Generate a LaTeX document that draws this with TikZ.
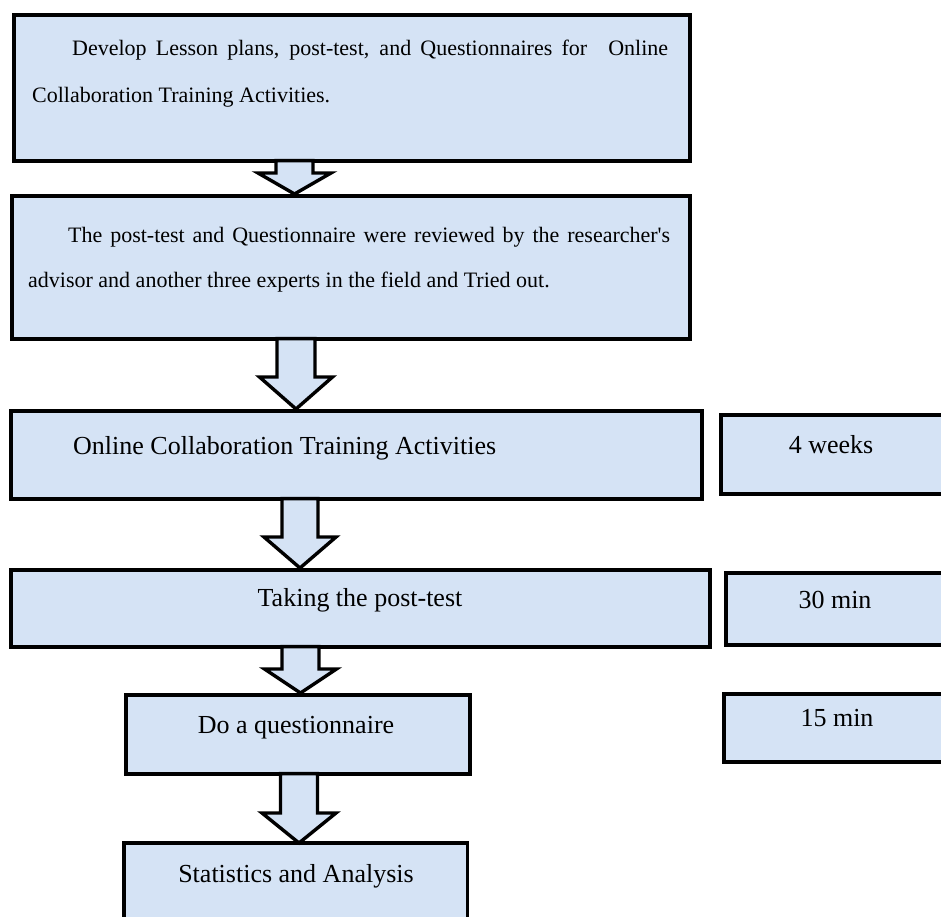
\documentclass[tikz,border=0pt]{standalone}
\usepackage{fontspec}
\setmainfont{Liberation Serif}
\usetikzlibrary{calc}
\definecolor{boxblue}{RGB}{213,227,245}
\newcommand\blockarrow[6]{% #1 from, #2 to, #3 centre x, #4 head length, #5 shaft half width, #6 head half width
  \draw[arr] let \p1=(#1.south), \p2=(#2.north) in
    (#3pt-#5pt,\y1+2pt) -- (#3pt-#5pt,\y2+#4pt) -- (#3pt-#6pt,\y2+#4pt) -- (#3pt,\y2)
    -- (#3pt+#6pt,\y2+#4pt) -- (#3pt+#5pt,\y2+#4pt) -- (#3pt+#5pt,\y1+2pt) -- cycle;}
\begin{document}
\begin{tikzpicture}[x=1pt,y=-1pt,
  box/.style={draw=black, line width=3.6pt, fill=boxblue, rectangle, inner sep=0pt, anchor=north west},
  openbox/.style={fill=boxblue, rectangle, inner sep=0pt, anchor=north west},
  arr/.style={draw=black, line width=3.4pt, fill=boxblue, line join=miter},
  small/.style={inner sep=0pt, font=\fontsize{22}{26}\selectfont},
  big/.style={inner sep=0pt, font=\fontsize{26}{30}\selectfont}]
\useasboundingbox (0,0) rectangle (941,916);
% boxes
\node[box, minimum width=676pt, minimum height=146pt] (b1) at (12,13) {};
\node[box, minimum width=678pt, minimum height=143pt] (b2) at (10,194) {};
\node[box, minimum width=691pt, minimum height=88pt] (b3) at (9,409) {};
\node[box, minimum width=699pt, minimum height=77pt] (b4) at (9,568) {};
\node[box, minimum width=344pt, minimum height=79pt] (b5) at (124,693) {};
\node[openbox, minimum width=343pt, minimum height=110pt] (b6) at (124,843) {};
\draw[line width=3.6pt] (b6.south west) -- (b6.north west) -- (b6.north east) -- (b6.south east);
\node[box, minimum width=250pt, minimum height=79pt] (r1) at (719,413) {};
\node[box, minimum width=250pt, minimum height=72pt] (r2) at (724,571) {};
\node[box, minimum width=250pt, minimum height=68pt] (r3) at (722,692) {};
% texts
\node[small, anchor=base west] (t1a) at (72,55) {\makebox[596pt][s]{Develop Lesson plans, post-test, and Questionnaires for\hspace{12pt} Online}};
\node[small, anchor=base west] (t1b) at (32,102) {Collaboration Training Activities.};
\node[small, anchor=base west] (t2a) at (68,242) {\makebox[602pt][s]{The post-test and Questionnaire were reviewed by the researcher\textquotesingle s}};
\node[small, anchor=base west] (t2b) at (28,287) {advisor and another three experts in the field and Tried out.};
\node[big, anchor=base west] (t3) at (73,454) {Online Collaboration Training Activities};
\node[big, anchor=base] (t4) at (360,606) {Taking the post-test};
\node[big, anchor=base] (t5) at (296,733) {Do a questionnaire};
\node[big, anchor=base] (t6) at (296,882) {Statistics and Analysis};
\node[big, anchor=base] (tr1) at (831,453) {4 weeks};
\node[big, anchor=base] (tr2) at (835,608) {30 min};
\node[big, anchor=base] (tr3) at (837,726) {15 min};
% block arrows
\blockarrow{b1}{b2}{294.5}{21}{18.5}{36.5}
\blockarrow{b2}{b3}{296}{32}{19}{36.5}
\blockarrow{b3}{b4}{300}{31}{18}{36}
\blockarrow{b4}{b5}{300.5}{24}{18.5}{36}
\blockarrow{b5}{b6}{299}{30}{18.5}{37}
\end{tikzpicture}
\end{document}
